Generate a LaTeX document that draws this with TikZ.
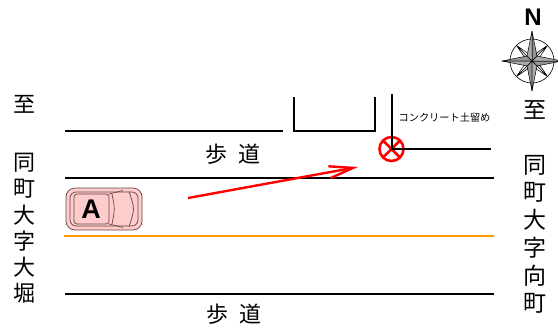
\documentclass[tikz,border=0pt]{standalone}
\usepackage{fontspec}
\setmainfont{Noto Sans CJK JP}
\newfontfamily\latinsans{Liberation Sans}
\usepackage{tikz}
\usetikzlibrary{calc}
\usetikzlibrary{arrows.meta}
\usetikzlibrary{positioning}
\definecolor{roadorange}{RGB}{255, 153, 0}
\definecolor{carpink}{RGB}{255, 204, 204}
\definecolor{caredge}{RGB}{100, 70, 70}
\definecolor{signred}{RGB}{255, 0, 0}
\definecolor{rosegray}{RGB}{150, 150, 150}

\begin{document}
\begin{tikzpicture}[x=1pt, y=-1pt,
    curb/.style={line width=2pt},
    walkjp/.style={font=\fontsize{22}{22}\selectfont, inner sep=0pt},
    westjp/.style={font=\fontsize{22}{22}\selectfont, inner sep=0pt},
    eastjp/.style={font=\fontsize{23}{23}\selectfont, inner sep=0pt},
    carline/.style={draw=caredge, line width=0.7pt}]
            \useasboundingbox (0,0) rectangle (558,333);
            % road and walkway edges
            \draw[curb]                                  ( 65.0,131.0) -- (283.0,131.0);
            \draw[curb]                                  (294.0, 97.0) -- (294.0,131.0) -- (375.0,131.0) -- (375.0, 97.0);
            \draw[curb]                                  ( 65.0,178.0) -- (494.0,178.0);
            \draw[curb, color=roadorange]                ( 64.0,236.0) -- (494.0,236.0);
            \draw[curb]                                  ( 65.0,294.0) -- (494.0,294.0);
            % crash point
            \coordinate (post) at (391.5,149.0);
            \draw[signred, line width=2.6pt]             (post) circle[radius=12];
            \draw[signred, line width=2.6pt]             (post) +(45:12) -- +(225:12) (post) +(135:12) -- +(315:12);
            \draw[curb]                                  (392.0, 94.0) -- (392.0,149.0) -- (491.0,149.0);
            \node[font=\fontsize{10.2}{10.2}\selectfont, inner sep=0pt] (retaining) at (444.5,118.0) {コンクリート土留め};
            % track of car A
            \coordinate (trackstart) at (188.0,198.0);
            \coordinate (trackend)   at (358.0,167.0);
            \draw[signred, line width=2.4pt, -{Straight Barb[length=24pt,width=12pt]}] (trackstart) -- (trackend);
            % car A
            \filldraw[carline, fill=carpink, rounded corners=9pt]   ( 66.0,188.0) rectangle (142.0,230.0);
            \draw[carline, rounded corners=6pt]                     ( 70.0,192.0) rectangle (138.0,226.0);
            \draw[carline, rounded corners=3pt]                     ( 74.0,194.0) rectangle (109.0,224.0);
            \draw[carline]                                          (109.0,194.0) -- (123.0,190.5);
            \draw[carline]                                          (109.0,224.0) -- (123.0,227.5);
            \draw[carline]                                          (112.0,194.0) .. controls (115.0,209.0) .. (112.0,224.0);
            \draw[carline]                                          (129.0,191.5) .. controls (135.0,209.0) .. (129.0,226.5);
            \node[font=\latinsans\bfseries\fontsize{27}{27}\selectfont, inner sep=0pt] (carA) at (91.0,209.5) {A};
            % walkways
            \node[walkjp] (walktop) at (233.0,154.0) {歩\hspace{11pt}道};
            \node[walkjp] (walkbot) at (234.0,314.0) {歩\hspace{11pt}道};
            % place names
            \node[westjp] (westto) at ( 24.0,104.0) {至};
            \foreach \c [count=\i] in {同,町,大,字,大,堀}
                \node[westjp] (west\i) at ( 24.0,{163+26*(\i-1)}) {\c};
            \node[eastjp] (eastto) at (535.0,110.0) {至};
            \foreach \c [count=\i] in {同,町,大,字,向,町}
                \node[eastjp] (east\i) at (535.0,{165+27.6*(\i-1)}) {\c};
            % compass
            \node[font=\latinsans\bfseries\fontsize{24}{24}\selectfont, inner sep=0pt] (north) at (533.0,17.0) {N};
            \begin{scope}[shift={(532.0,61.0)}]
                \draw[line width=0.6pt] (0,0) circle[radius=22];
                \foreach \a in {45,135,225,315} {
                    \fill[white]         (0,0) -- (\a:22) -- ({\a+45}:5) -- cycle;
                    \fill[rosegray!45]   (0,0) -- (\a:22) -- ({\a-45}:5) -- cycle;
                    \draw[line width=0.5pt] ({\a+45}:5) -- (\a:22) -- ({\a-45}:5) (0,0) -- (\a:22);
                }
                \foreach \a in {0,90,180,270} {
                    \filldraw[fill=rosegray,     line width=0.5pt] (0,0) -- (\a:30) -- ({\a+45}:7) -- cycle;
                    \filldraw[fill=rosegray!80,  line width=0.5pt] (0,0) -- (\a:30) -- ({\a-45}:7) -- cycle;
                }
            \end{scope}
        \end{tikzpicture}
\end{document}
